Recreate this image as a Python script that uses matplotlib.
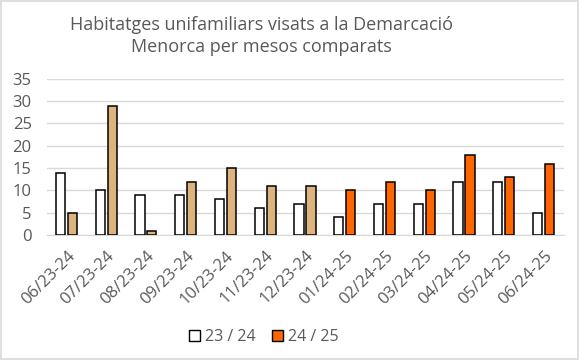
import numpy as np
import matplotlib

matplotlib.use("Agg")
import matplotlib.pyplot as plt
from matplotlib.patches import Patch, Rectangle

months = ["06/23-24", "07/23-24", "08/23-24", "09/23-24", "10/23-24",
          "11/23-24", "12/23-24", "01/24-25", "02/24-25", "03/24-25",
          "04/24-25", "05/24-25", "06/24-25"]
prev = [14, 10, 9, 9, 8, 6, 7, 4, 7, 7, 12, 12, 5]
curr = [5, 29, 1, 12, 15, 11, 11, 10, 12, 10, 18, 13, 16]
# last year's months shown in tan, this year's in orange
curr_colors = ["#DEB47E"] * 7 + ["#FF6600"] * 6

TXT = "#595959"
GRID = "#D9D9D9"

plt.rcParams["font.family"] = ["Open Sans", "DejaVu Sans"]

fig = plt.figure(figsize=(5.8, 3.6), dpi=100)
fig.patch.set_facecolor("white")
fig.patches.append(Rectangle((0.002, 0.003), 0.995, 0.994, transform=fig.transFigure,
                             fill=False, edgecolor=GRID, lw=1.2))
ax = fig.add_axes([0.081, 0.347, 0.891, 0.434])

x = np.arange(len(months))
w = 0.23
ax.bar(x - 0.16, prev, w, color="white", edgecolor="black", lw=1.1, zorder=3)
ax.bar(x + 0.14, curr, w, color=curr_colors, edgecolor="black", lw=1.1, zorder=3)

ax.set_xlim(-0.5, len(months) - 0.5)
ax.set_ylim(0, 35)
ax.set_yticks(range(0, 36, 5))
ax.yaxis.grid(True, color=GRID, lw=1, zorder=0)
for s in ["top", "right", "left"]:
    ax.spines[s].set_visible(False)
ax.spines["bottom"].set_color(GRID)
ax.tick_params(axis="both", length=0, colors=TXT, labelsize=12)
ax.tick_params(axis="y", pad=11)
ax.tick_params(axis="x", pad=9)
ax.set_xticks(x)
ax.set_xticklabels(months, rotation=45, ha="right", rotation_mode="anchor",
                   fontsize=12)

fig.text(0.45, 0.9, "Habitatges unifamiliars visats a la Demarcació\nMenorca per mesos comparats",
         ha="center", va="center", fontsize=13, color=TXT, linespacing=1.25)

handles = [Patch(facecolor="white", edgecolor="black", lw=1),
           Patch(facecolor="#FF6600", edgecolor="black", lw=1)]
fig.legend(handles, ["23 / 24", "24 / 25"], loc="center", bbox_to_anchor=(0.455, 0.063),
           ncol=2, frameon=False, fontsize=11.5, labelcolor=TXT,
           handlelength=0.7, handleheight=0.7, handletextpad=0.3, columnspacing=1.0)

fig.savefig("out.png", dpi=100, facecolor="white")
